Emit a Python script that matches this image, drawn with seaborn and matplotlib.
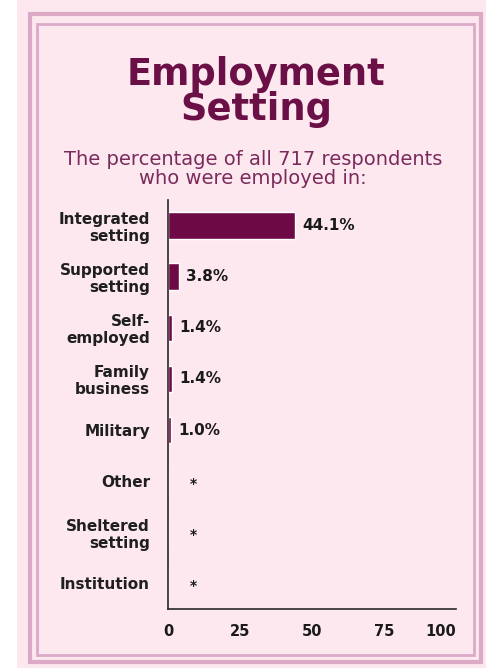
import matplotlib
matplotlib.use("Agg")
import matplotlib.pyplot as plt
import seaborn as sns
import pandas as pd
from matplotlib.patches import Rectangle

# Data
categories = ["Integrated\nsetting", "Supported\nsetting", "Self-\nemployed", "Family\nbusiness",
              "Military", "Other", "Sheltered\nsetting", "Institution"]
percent = [44.1, 3.8, 1.4, 1.4, 1.0, 0, 0, 0]
value_labels = ["44.1%", "3.8%", "1.4%", "1.4%", "1.0%", "*", "*", "*"]
x_ticks = [0, 25, 50, 75, 100]

df = pd.DataFrame({"Setting": categories, "Percent": percent})

bg = "#fde8ef"
wine = "#6d0a45"
border = "#dcaac7"

sns.set_theme(style="white")
plt.rcParams["font.family"] = ["DejaVu Sans"]

fig = plt.figure(figsize=(4.86, 6.68), dpi=100)
fig.patch.set_facecolor("white")

# pink card + double frame
fig.patches.append(Rectangle((17 / 486, 0), 469 / 486, 1, transform=fig.transFigure,
                             facecolor=bg, edgecolor="none", zorder=-3))
fig.patches.append(Rectangle((30 / 486, 1 - 662 / 668), 451 / 486, 648 / 668, transform=fig.transFigure,
                             facecolor="none", edgecolor=border, lw=3, zorder=-2))
fig.patches.append(Rectangle((37 / 486, 1 - 655 / 668), 437 / 486, 631 / 668, transform=fig.transFigure,
                             facecolor="none", edgecolor=border, lw=2, zorder=-2))

ax = fig.add_axes([168 / 486, 1 - 609 / 668, 288 / 486, 409 / 668])
ax.set_facecolor("none")

sns.barplot(data=df, x="Percent", y="Setting", orient="h", color=wine, width=0.52,
            saturation=1, ax=ax)

ax.set_xlim(0, 100)
ax.set_ylim(len(categories) - 0.5, -0.5)
ax.set_xticks(x_ticks)
ax.set_xticklabels([str(t) for t in x_ticks], fontsize=10.5, fontweight="bold", color="#1a1a1a")
ax.get_xticklabels()[-1].set_horizontalalignment("right")
ax.tick_params(axis="x", length=0, pad=11)
ax.tick_params(axis="y", length=0, pad=13)
for lab in ax.get_yticklabels():
    lab.set_fontsize(11)
    lab.set_fontweight("bold")
    lab.set_color("#1f1f1f")
    lab.set_linespacing(1.15)
ax.set_xlabel("")
ax.set_ylabel("")

for s in ["top", "right"]:
    ax.spines[s].set_visible(False)
for s in ["left", "bottom"]:
    ax.spines[s].set_color("#2a2a2a")
    ax.spines[s].set_linewidth(1.2)

for i, (v, lab) in enumerate(zip(percent, value_labels)):
    if lab == "*":
        ax.annotate(lab, (v, i), xytext=(25, -3), textcoords="offset pixels",
                    ha="center", va="center", fontsize=10, fontweight="bold", color="#1a1a1a")
    else:
        ax.annotate(lab, (v, i), xytext=(7, 0), textcoords="offset pixels",
                    ha="left", va="center", fontsize=11, fontweight="bold", color="#1a1a1a")

fig.text(256 / 486, 1 - 92 / 668, "Employment\nSetting", ha="center", va="center",
         fontsize=26.5, fontweight="bold", color="#6b0f47", linespacing=0.92)
fig.text(253 / 486, 1 - 169 / 668, "The percentage of all 717 respondents\nwho were employed in:",
         ha="center", va="center", fontsize=14, color="#7a2b5c", linespacing=0.95)

fig.savefig("out.png", dpi=100, facecolor=fig.get_facecolor())
